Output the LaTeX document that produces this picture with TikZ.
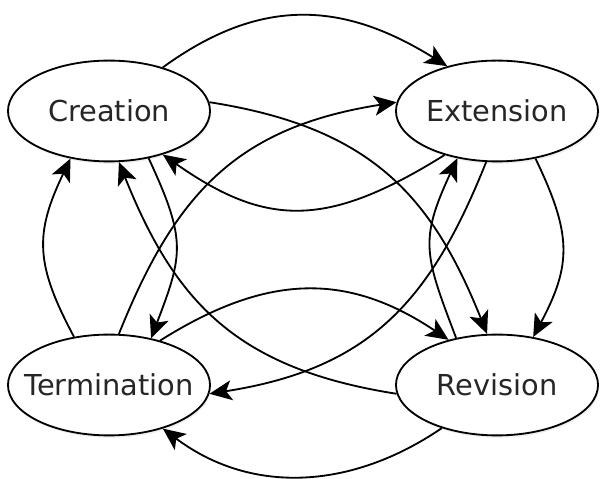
\documentclass[tikz,border=0pt]{standalone}
\usepackage{fontspec}
\newfontfamily\statefont{DejaVu Sans}
\usetikzlibrary{arrows.meta,shapes.geometric,shadows}

\tikzset{
  state/.style={ellipse, draw, fill=white, inner sep=0pt,
                minimum width=5.05cm, minimum height=2.52cm,
                drop shadow={opacity=0.12, shadow xshift=0.03cm, shadow yshift=-0.06cm},
                font=\statefont\fontsize{20.5}{24}\selectfont, text=black!85},
}

\begin{document}
\begin{tikzpicture}[x=0.025cm, y=0.025cm, line width=1.3pt,
                    >={Stealth[length=0.56cm, width=0.5cm, inset=0.14cm]}]
  \useasboundingbox (0,0) rectangle (600,479);
  % --- estados ---
  \foreach \nm/\px/\py/\txt in {cre/109/368/Creation, ext/497/368/Extension,
                                ter/109/94/Termination, rev/497/94/Revision}
    { \node[state] (\nm) at (\px,\py) {\makebox[0pt]{\txt}}; }
  % --- arriba y abajo ---
  \draw[->] (cre.39) .. controls +(99,72) and +(-103,64) .. (ext.138.5);
  \draw[->] (ext.220) .. controls +(-117,-73) and +(104,-73) .. (cre.321.6);
  \draw[->] (ter.41) .. controls +(105,66) and +(-103,69) .. (rev.137.4);
  \draw[->] (rev.218.5) .. controls +(-91,-62) and +(88,-66) .. (ter.321);
  % --- lados ---
  \draw[->] (cre.310) .. controls +(38,-82) and +(32,84) .. (ter.48.7);
  \draw[->] (ter.126.5) .. controls +(-39,73) and +(-36,-75) .. (cre.231);
  \draw[->] (ext.309) .. controls +(36,-75) and +(39,73) .. (rev.53.5);
  \draw[->] (rev.131.3) .. controls +(-32,84) and +(-38,-82) .. (ext.230);
  % --- diagonales ---
  \draw[->] (cre.5) .. controls +(160,-25) and +(-56,140) .. (rev.101);
  \draw[->] (rev.185) .. controls +(-160,25) and +(56,-140) .. (cre.281.5);
  \draw[->] (ter.79) .. controls +(56,140) and +(-160,-25) .. (ext.175);
  \draw[->] (ext.258.5) .. controls +(-56,-140) and +(160,25) .. (ter.355);
\end{tikzpicture}
\end{document}
